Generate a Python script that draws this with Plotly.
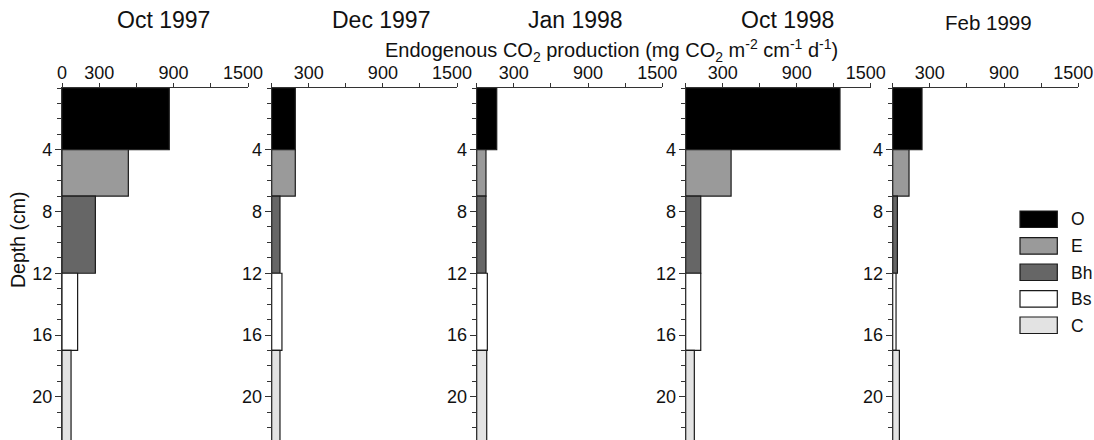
import plotly.graph_objects as go

# ---- data ----
dates = ["Oct 1997", "Dec 1997", "Jan 1998", "Oct 1998", "Feb 1999"]
horizons = ["O", "E", "Bh", "Bs", "C"]
depth_top = [0, 4, 7, 12, 17]
depth_bottom = [4, 7, 12, 17, 26]
# endogenous CO2 production (mg CO2 m-2 cm-1 d-1), per horizon, per date
production = {
    "Oct 1997": [865, 535, 269, 126, 73],
    "Dec 1997": [191, 191, 67, 83, 67],
    "Jan 1998": [162, 75, 75, 86, 81],
    "Oct 1998": [1251, 368, 122, 122, 70],
    "Feb 1999": [237, 132, 38, 27, 54],
}
colors = ["#000000", "#9a9a9a", "#666666", "#ffffff", "#e3e3e3"]
NB = "\u00a0\u00a0"
x_tickvals_first = [0, 300, 900, 1500]
x_ticktext_first = [NB + "0", NB + "300", NB + "900", "1500"]
x_tickvals_other = [300, 900, 1500]
x_ticktext_other = [NB + "300", NB + "900", "1500"]
y_tickvals = [4, 8, 12, 16, 20]

W, H = 1094, 440
panel_px = [(62, 248), (271.7, 457), (476.7, 662.3), (685.7, 870.7), (892.7, 1078.3)]
top_px = 88
FONT = "Liberation Sans, Arial, Helvetica, sans-serif"

fig = go.Figure()
mids = [(a + b) / 2 for a, b in zip(depth_top, depth_bottom)]
widths = [b - a for a, b in zip(depth_top, depth_bottom)]

for i, d in enumerate(dates):
    ax = "" if i == 0 else str(i + 1)
    for j, h in enumerate(horizons):
        fig.add_trace(go.Bar(
            x=[production[d][j]], y=[mids[j]], width=[widths[j]], base=0,
            orientation="h", name=h, showlegend=False,
            marker=dict(color=colors[j], line=dict(color="#1a1a1a", width=1.2)),
            xaxis="x" + ax, yaxis="y" + ax,
        ))
    x0, x1 = panel_px[i]
    fig.layout["xaxis" + ax] = dict(
        domain=[x0 / W, x1 / W], range=[0, 1500], side="top", anchor="y" + ax,
        automargin=False, ticklabeloverflow="allow", ticklabelstandoff=-3,
        ticklabelshift=-5,
        tickmode="array",
        tickvals=x_tickvals_first if i == 0 else x_tickvals_other,
        ticktext=x_ticktext_first if i == 0 else x_ticktext_other,
        ticks="outside", ticklen=4, tickwidth=1, tickcolor="#333",
        minor=dict(tickmode="linear", tick0=0, dtick=300, ticks="outside", ticklen=4, tickcolor="#333"),
        showline=True, linecolor="#333", linewidth=1.2, showgrid=False, zeroline=False,
        tickfont=dict(size=18, color="#111", family=FONT), fixedrange=True,
    )
    fig.layout["yaxis" + ax] = dict(
        domain=[0, 1 - top_px / H], range=[22.8, 0], anchor="x" + ax,
        automargin=False, ticklabeloverflow="allow", ticklabelstandoff=-1,
        tickmode="array", tickvals=y_tickvals,
        ticks="outside", ticklen=6, tickwidth=1, tickcolor="#333",
        minor=dict(tickmode="linear", tick0=0, dtick=1, ticks="outside", ticklen=4, tickcolor="#333"),
        showline=True, linecolor="#333", linewidth=1.2, showgrid=False, zeroline=False,
        tickfont=dict(size=18, color="#111", family=FONT), fixedrange=True,
    )

# panel titles
title_pos = [(163, 20, 23), (381, 20, 23), (575, 20, 23), (787, 20, 23), (988, 23, 20.5)]
for d, (cx, cy, fs) in zip(dates, title_pos):
    fig.add_annotation(text=d, x=cx / W, y=1 - cy / H, xref="paper", yref="paper",
                       showarrow=False, xanchor="center", yanchor="middle",
                       font=dict(size=fs, color="#111", family=FONT))

# shared axis title
fig.add_annotation(
    text="Endogenous CO<sub>2</sub> production (mg CO<sub>2</sub> m<sup>-2</sup> cm<sup>-1</sup> d<sup>-1</sup>)",
    x=611 / W, y=1 - 50 / H, xref="paper", yref="paper", showarrow=False,
    xanchor="center", yanchor="middle", font=dict(size=20, color="#111", family=FONT))

fig.add_annotation(text="Depth (cm)", x=18 / W, y=1 - 240 / H, xref="paper", yref="paper",
                   showarrow=False, textangle=-90, xanchor="center", yanchor="middle",
                   font=dict(size=19.5, color="#111", family=FONT))

# legend (drawn manually to match box shape)
leg_top = [211, 237.7, 264, 290.7, 317]
for h, c, yt in zip(horizons, colors, leg_top):
    fig.add_shape(type="rect", xref="paper", yref="paper",
                  x0=1020 / W, x1=1057.3 / W, y0=1 - yt / H, y1=1 - (yt + 16.5) / H,
                  fillcolor=c, line=dict(color="#1a1a1a", width=1.2))
    fig.add_annotation(text=h, x=1069 / W, y=1 - (yt + 8.5) / H, xref="paper", yref="paper",
                       showarrow=False, xanchor="left", yanchor="middle",
                       font=dict(size=17.5, color="#111", family=FONT))

fig.update_layout(
    width=W, height=H, margin=dict(l=0, r=0, t=0, b=0, autoexpand=False),
    paper_bgcolor="white", plot_bgcolor="white", barmode="overlay",
    showlegend=False,
)

fig.write_html("out.html")
